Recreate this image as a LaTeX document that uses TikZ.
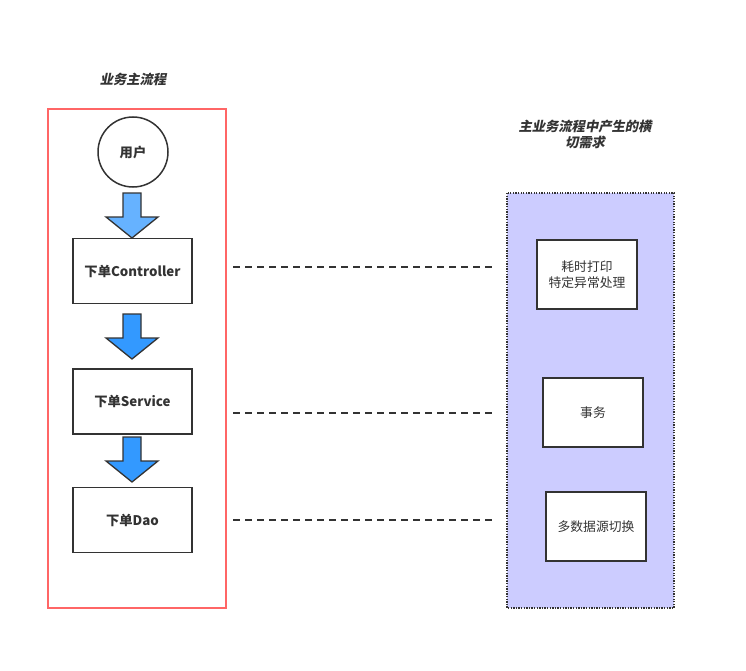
\documentclass[tikz,border=0pt]{standalone}
\usepackage{fontspec}
\setmainfont{Noto Sans CJK SC}
\newfontfamily\cjkslant{Noto Sans CJK SC}[FakeSlant=0.2]
\usetikzlibrary{calc}
\definecolor{redline}{HTML}{FF6666}
\definecolor{lightblue}{HTML}{66B2FF}
\definecolor{midblue}{HTML}{3399FF}
\definecolor{lavender}{HTML}{CCCCFF}
\definecolor{darkline}{HTML}{333333}
\tikzset{
  stepbox/.style={draw=darkline, line width=1.5pt, fill=white, minimum width=119pt, minimum height=65pt, font=\fontsize{13.3}{16}\selectfont\bfseries, text=darkline},
  sidebox/.style={draw=darkline, line width=1.5pt, fill=white, minimum width=100pt, minimum height=69pt, font=\fontsize{12.8}{16}\selectfont, text=darkline, align=center},
  titletext/.style={font=\cjkslant\fontsize{13.3}{16}\selectfont\bfseries, text=darkline, align=center},
  dashconn/.style={draw=darkline, line width=1.3pt, dash pattern=on 7pt off 5pt},
  bigarrow/.style={draw=darkline, line width=1.3pt, line join=miter}
}
\newcommand{\downarrowshape}[3]{% x center, y top, color
  \filldraw[bigarrow, fill=#3] (#1-9,#2) -- (#1+9,#2) -- (#1+9,#2+24) -- (#1+26,#2+24) -- (#1,#2+45) -- (#1-26,#2+24) -- (#1-9,#2+24) -- cycle;
}
\begin{document}
\begin{tikzpicture}[x=1pt,y=-1pt]
\useasboundingbox (0,0) rectangle (746,671);
% left container
\node[titletext] (ltitle) at (133,79) {业务主流程};
\draw[redline, line width=1.5pt] (48,109) rectangle (226,608);
\node[circle, draw=darkline, line width=1.5pt, minimum size=70pt, inner sep=0pt, font=\fontsize{13.3}{16}\selectfont\bfseries, text=darkline] (user) at (133,152) {用户};
\node[stepbox] (ctrl) at (132.5,271) {下单Controller};
\node[stepbox] (svc) at (132.5,401.5) {下单Service};
\node[stepbox] (dao) at (132.5,520) {下单Dao};
\downarrowshape{132}{193}{lightblue}
\downarrowshape{132}{314}{midblue}
\downarrowshape{132}{437}{midblue}
% right container
\draw[darkline, fill=lavender, line width=1.3pt, dash pattern=on 1.3pt off 1.3pt] (507,193) rectangle (674,608);
\node[titletext] (rtitle) at (585,134) {主业务流程中产生的横\\切需求};
\node[sidebox] (log) at (587,274.5) {耗时打印\\特定异常处理};
\node[sidebox] (tx) at (593,412.5) {事务};
\node[sidebox] (ds) at (596,526.5) {多数据源切换};
% dashed connectors
\coordinate (c1a) at (233,267); \coordinate (c1b) at (493,267);
\coordinate (c2a) at (233,413); \coordinate (c2b) at (493,413);
\coordinate (c3a) at (233,520); \coordinate (c3b) at (493,520);
\draw[dashconn] (c1a) -- (c1b);
\draw[dashconn] (c2a) -- (c2b);
\draw[dashconn] (c3a) -- (c3b);
\end{tikzpicture}
\end{document}
